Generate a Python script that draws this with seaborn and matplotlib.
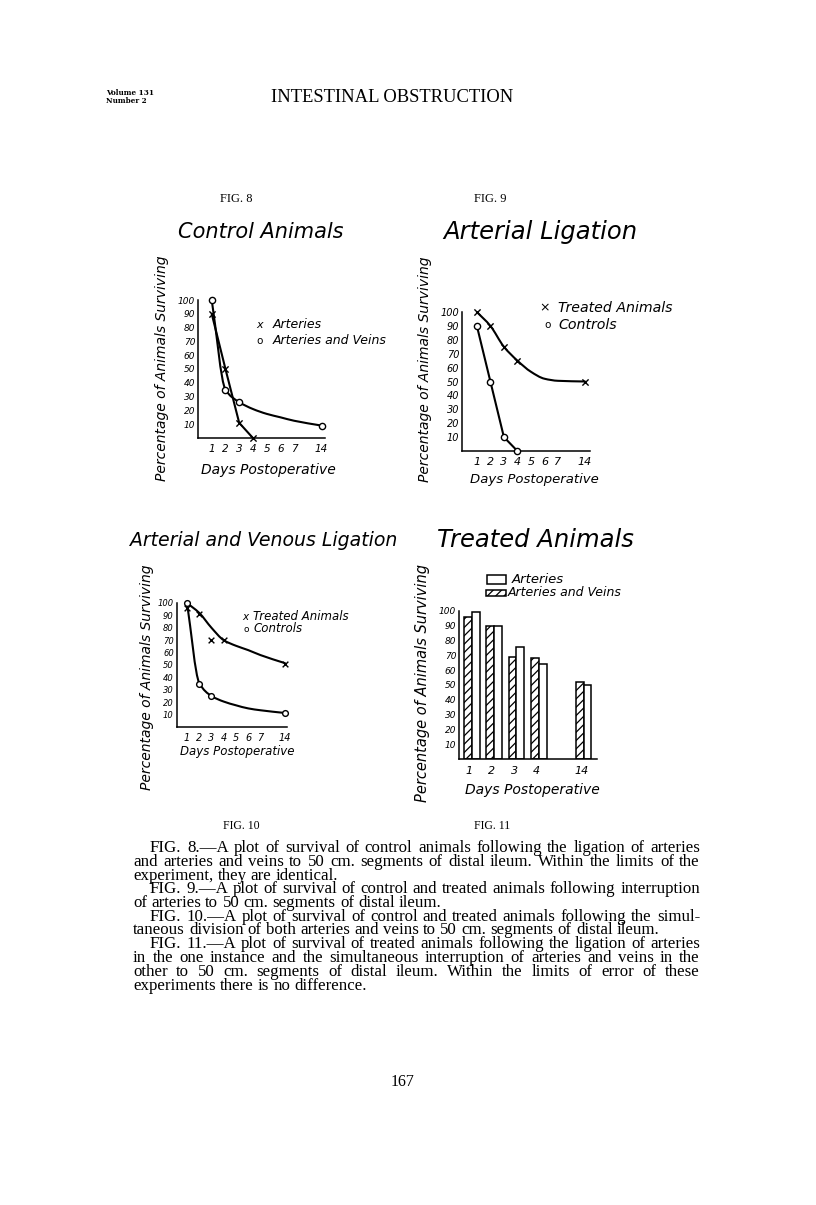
import numpy as np
import pandas as pd
import seaborn as sns
import matplotlib
matplotlib.use("Agg")
import matplotlib.pyplot as plt
from matplotlib.path import Path
from matplotlib.patches import PathPatch, Rectangle

# ---- data ----
tick_days = [1, 2, 3, 4, 5, 6, 7, 14]
y_ticks = [10, 20, 30, 40, 50, 60, 70, 80, 90, 100]

# Fig. 8  Control Animals
fig8_art_days = [1, 2, 3, 4]
fig8_art = [90, 50, 11, 0]
fig8_av_days = [1, 2, 3, 14]
fig8_av = [100, 35, 26, 9]
fig8_av_curve = [100, 35, 26, 21, 17.5, 15, 12.5, 9]        # drawn curve at tick_days

# Fig. 9  Arterial Ligation
fig9_treated_days = [1, 2, 3, 4, 14]
fig9_treated = [100, 90, 75, 65, 50]
fig9_treated_curve = [100, 90, 75, 65, 57, 52, 50.5, 50]
fig9_ctrl_days = [1, 2, 3, 4]
fig9_ctrl = [90, 50, 10, 0]

# Fig. 10  Arterial and Venous Ligation
fig10_treated_days = [1, 2, 3, 4, 14]
fig10_treated = [96, 91, 70, 70, 51]
fig10_treated_curve = [100, 92, 80, 70, 65.5, 62, 58, 51.5]
fig10_ctrl_days = [1, 2, 3, 14]
fig10_ctrl = [100, 35, 25, 11]
fig10_ctrl_curve = [100, 35.5, 25, 20.5, 17.5, 15, 13.5, 11.3]

# Fig. 11  Treated Animals
fig11_days = [1, 2, 3, 4, 14]
fig11_arteries = [99, 90, 76, 64, 50]
fig11_art_veins = [96, 90, 69, 68, 52]

captions = [
    (True, True, "FIG. 8.—A plot of survival of control animals following the ligation of arteries"),
    (False, True, "and arteries and veins to 50 cm. segments of distal ileum.  Within the limits of the"),
    (False, False, "experiment, they are identical."),
    (True, True, "FIG. 9.—A plot of survival of control and treated animals following interruption"),
    (False, False, "of arteries to 50 cm. segments of distal ileum."),
    (True, True, "FIG. 10.—A plot of survival of control and treated animals following the simul-"),
    (False, False, "taneous division of both arteries and veins to 50 cm. segments of distal ileum."),
    (True, True, "FIG. 11.—A plot of survival of treated animals following the ligation of arteries"),
    (False, True, "in the one instance and the simultaneous interruption of arteries and veins in the"),
    (False, True, "other to 50 cm. segments of distal ileum.  Within the limits of error of these"),
    (False, False, "experiments there is no difference."),
]

# the x axes are squeezed: days 1..7 evenly, then a gap before day 14
line_pos = {1: 1, 2: 2, 3: 3, 4: 4, 5: 5, 6: 6, 7: 7, 14: 9}
bar_pos = {1: 0, 2: 1, 3: 2, 4: 3, 14: 5}

sns.set_style("white")
plt.rcParams["font.family"] = ["DejaVu Sans"]
plt.rcParams["hatch.linewidth"] = 0.9
for key in ["text.color", "axes.labelcolor", "xtick.color", "ytick.color", "axes.edgecolor"]:
    plt.rcParams[key] = "black"

W, H = 816, 1205
fig = plt.figure(figsize=(W / 100, H / 100), dpi=100)
fig.patch.set_facecolor("white")

SERIF = "Liberation Serif"


def ftext(x, y, s, **kw):
    kw.setdefault("ha", "center")
    kw.setdefault("va", "center")
    kw.setdefault("color", "black")
    return fig.text(x / W, 1 - y / H, s, **kw)


def make_axes(left, top, right, bottom, xlim):
    ax = fig.add_axes([left / W, 1 - bottom / H, (right - left) / W, (bottom - top) / H])
    ax.set_xlim(*xlim)
    ax.set_ylim(0, 100)
    sns.despine(ax=ax)
    for s in ["left", "bottom"]:
        ax.spines[s].set_linewidth(1.1)
        ax.spines[s].set_color("black")
    ax.set_facecolor("none")
    return ax


def style_ticks(ax, xsize, ysize):
    ax.set_yticks(y_ticks)
    ax.set_yticklabels([str(v) for v in y_ticks], fontsize=ysize, style="italic")
    ax.tick_params(axis="y", direction="in", length=3, width=0.9, pad=2, colors="black")
    ax.set_xticks([line_pos[d] for d in tick_days])
    ax.set_xticklabels([str(d) for d in tick_days], fontsize=xsize, style="italic")
    ax.tick_params(axis="x", direction="in", length=3, width=0.9, pad=4, colors="black")
    ax.set_xlabel("")
    ax.set_ylabel("")


def curve(ax, days, vals, lw=1.5):
    # smooth curve through the read points: monotone cubic (Fritsch-Carlson) as Bezier segments
    x = np.array([line_pos[d] for d in days], float)
    y = np.array(vals, float)
    h = np.diff(x)
    d = np.diff(y) / h
    m = np.zeros_like(y)
    m[0], m[-1] = d[0], d[-1]
    for k in range(1, len(x) - 1):
        if d[k - 1] * d[k] > 0:
            w1, w2 = 2 * h[k] + h[k - 1], h[k] + 2 * h[k - 1]
            m[k] = (w1 + w2) / (w1 / d[k - 1] + w2 / d[k])
    verts, codes = [(x[0], y[0])], [Path.MOVETO]
    for k in range(len(x) - 1):
        verts += [(x[k] + h[k] / 3, y[k] + m[k] * h[k] / 3),
                  (x[k + 1] - h[k] / 3, y[k + 1] - m[k + 1] * h[k] / 3),
                  (x[k + 1], y[k + 1])]
        codes += [Path.CURVE4] * 3
    ax.add_patch(PathPatch(Path(verts, codes), fill=False, lw=lw, color="black", capstyle="round"))


def straight(ax, days, vals, lw=1.5):
    df = pd.DataFrame({"pos": [line_pos[d] for d in days], "val": vals})
    sns.lineplot(data=df, x="pos", y="val", ax=ax, color="black", lw=lw, sort=False)


def marks(ax, days, vals, kind, size=20):
    df = pd.DataFrame({"pos": [line_pos[d] for d in days], "val": vals})
    if kind == "x":
        sns.scatterplot(data=df, x="pos", y="val", ax=ax, marker="x", s=size,
                        color="black", linewidth=1.0, zorder=5, clip_on=False)
    else:
        sns.scatterplot(data=df, x="pos", y="val", ax=ax, marker="o", s=size,
                        facecolor="white", edgecolor="black", linewidth=1.0, zorder=5, clip_on=False)


# ---- page header ----
ftext(106, 93, "Volume 131", ha="left", family="DejaVu Serif", weight="bold", fontsize=5.2)
ftext(106, 101, "Number 2", ha="left", family="DejaVu Serif", weight="bold", fontsize=5.2)
ftext(392, 97, "INTESTINAL OBSTRUCTION", family=SERIF, fontsize=13.4)

# ---- Fig. 8 ----
ftext(236, 199, "FIG. 8", family=SERIF, fontsize=9)
ftext(261, 232, "Control Animals", style="italic", fontsize=15)
ax8 = make_axes(198, 300, 325, 438, (0, 9.25))
straight(ax8, fig8_art_days, fig8_art)
curve(ax8, tick_days, fig8_av_curve)
marks(ax8, fig8_art_days, fig8_art, "x")
marks(ax8, fig8_av_days, fig8_av, "o")
style_ticks(ax8, 7.5, 6.5)
ftext(162, 368, "Percentage of Animals Surviving", rotation=90, style="italic", fontsize=10)
ftext(268, 470, "Days Postoperative", style="italic", fontsize=10)
ftext(260, 325, "x", style="italic", fontsize=8)
ftext(273, 325, "Arteries", ha="left", style="italic", fontsize=9)
ftext(260, 341, "o", fontsize=7.5)
ftext(273, 341, "Arteries and Veins", ha="left", style="italic", fontsize=9)

# ---- Fig. 9 ----
ftext(490, 199, "FIG. 9", family=SERIF, fontsize=9)
ftext(540, 232, "Arterial Ligation", style="italic", fontsize=17.5)
ax9 = make_axes(462, 312, 590, 451, (-0.1, 9.37))
curve(ax9, tick_days, fig9_treated_curve)
straight(ax9, fig9_ctrl_days, fig9_ctrl)
marks(ax9, fig9_treated_days, fig9_treated, "x")
marks(ax9, fig9_ctrl_days, fig9_ctrl, "o")
style_ticks(ax9, 8, 7)
ftext(425, 369, "Percentage of Animals Surviving", rotation=90, style="italic", fontsize=10)
ftext(534, 480, "Days Postoperative", style="italic", fontsize=9.5)
ftext(545, 308, "×", fontsize=9)
ftext(558, 308, "Treated Animals", ha="left", style="italic", fontsize=10.2)
ftext(548, 325, "o", fontsize=7.5)
ftext(558, 325, "Controls", ha="left", style="italic", fontsize=10.2)

# ---- Fig. 10 ----
ftext(264, 540, "Arterial and Venous Ligation", style="italic", fontsize=13.6)
ax10 = make_axes(176.6, 603, 287.4, 727, (0.15, 9.2))
curve(ax10, tick_days, fig10_treated_curve)
curve(ax10, tick_days, fig10_ctrl_curve)
marks(ax10, fig10_treated_days, fig10_treated, "x", size=17)
marks(ax10, fig10_ctrl_days, fig10_ctrl, "o", size=17)
style_ticks(ax10, 7, 6)
ftext(147, 677, "Percentage of Animals Surviving", rotation=90, style="italic", fontsize=10)
ftext(237, 752, "Days Postoperative", style="italic", fontsize=8.5)
ftext(245, 617, "x", style="italic", fontsize=7.5)
ftext(253, 617, "Treated Animals", ha="left", style="italic", fontsize=8.5)
ftext(246, 629, "o", fontsize=6.5)
ftext(253, 629, "Controls", ha="left", style="italic", fontsize=8.5)

# ---- Fig. 11 ----
ftext(535, 540, "Treated Animals", style="italic", fontsize=17.5)
ax11 = make_axes(459, 611, 597, 759, (-0.57, 5.6))
bars = pd.DataFrame({
    "pos": [bar_pos[d] for d in fig11_days] * 2,
    "value": fig11_art_veins + fig11_arteries,
    "series": ["Arteries and Veins"] * len(fig11_days) + ["Arteries"] * len(fig11_days),
})
sns.barplot(data=bars, x="pos", y="value", hue="series",
            hue_order=["Arteries and Veins", "Arteries"], native_scale=True, width=0.7,
            palette={"Arteries and Veins": "white", "Arteries": "white"}, saturation=1,
            edgecolor="black", linewidth=1.1, errorbar=None, legend=False, ax=ax11)
for bar in ax11.containers[0]:
    bar.set_hatch("////")
ax11.set_xlim(-0.57, 5.6)
ax11.set_ylim(0, 100)
ax11.set_yticks(y_ticks)
ax11.set_yticklabels([str(v) for v in y_ticks], fontsize=6.5, style="italic")
ax11.tick_params(axis="y", direction="in", length=2, width=0.9, pad=2)
ax11.set_xticks([bar_pos[d] - 0.1 for d in fig11_days])
ax11.set_xticklabels([str(d) for d in fig11_days], fontsize=8, style="italic")
ax11.tick_params(axis="x", length=0, pad=5)
ax11.set_xlabel("")
ax11.set_ylabel("")
ftext(422, 683, "Percentage of Animals Surviving", rotation=90, style="italic", fontsize=10.5)
ftext(532, 790, "Days Postoperative", style="italic", fontsize=10)
fig.patches.append(Rectangle((487 / W, 1 - 584 / H), 19 / W, 9 / H, transform=fig.transFigure,
                             facecolor="white", edgecolor="black", lw=1.1))
fig.patches.append(Rectangle((486 / W, 1 - 596 / H), 20 / W, 6 / H, transform=fig.transFigure,
                             facecolor="white", edgecolor="black", lw=1.1, hatch="////"))
ftext(512, 579, "Arteries", ha="left", style="italic", fontsize=9.5)
ftext(508, 593, "Arteries and Veins", ha="left", style="italic", fontsize=9)

# ---- figure numbers under the bottom row ----
ftext(241, 826, "FIG. 10", family=SERIF, fontsize=8.5)
ftext(492, 826, "FIG. 11", family=SERIF, fontsize=8.5)

# ---- captions, justified word by word ----
renderer = fig.canvas.get_renderer()
left_m, right_m, indent = 133, 700, 17
cap_size = 12.2
y = 848
for ind, justify, line in captions:
    words = line.split()
    x0 = left_m + (indent if ind else 0)
    items = [ftext(x0, y, w, ha="left", family=SERIF, fontsize=cap_size) for w in words]
    widths = [t.get_window_extent(renderer).width for t in items]
    space = cap_size * 100 / 72 * 0.25
    if justify and len(words) > 1:
        space = max((right_m - x0 - sum(widths)) / (len(words) - 1), cap_size * 100 / 72 * 0.12)
    x = x0
    for t, w in zip(items, widths):
        t.set_x(x / W)
        x += w + space
    y += 13.75

ftext(403, 1082, "167", family=SERIF, fontsize=11.5)

fig.savefig("out.png", dpi=100, facecolor="white")
